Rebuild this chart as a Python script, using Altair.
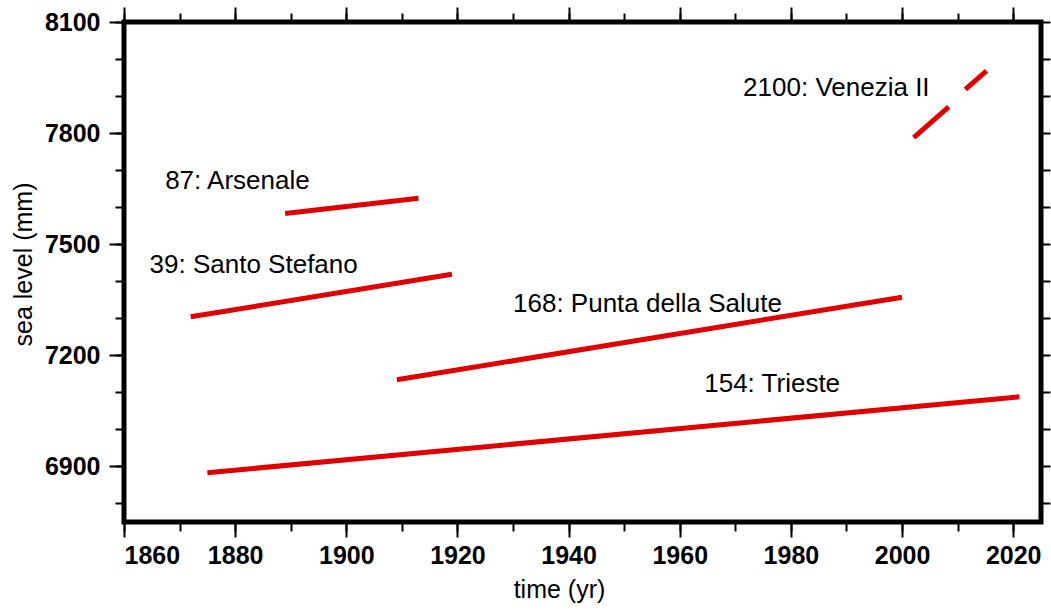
import altair as alt
import pandas as pd

# ---- data ----
segments = ["Trieste", "Punta della Salute", "Santo Stefano", "Arsenale",
            "Venezia II a", "Venezia II b"]
year_start = [1875.0, 1909.1, 1872.0, 1889.0, 2002.1, 2011.4]
year_end = [2021.1, 2000.0, 1919.0, 1913.0, 2008.4, 2015.2]
level_start = [6883, 7134, 7304, 7583, 7788, 7918]
level_end = [7088, 7357, 7419, 7624, 7871, 7968]

label_text = ["154: Trieste", "168: Punta della Salute", "39: Santo Stefano",
              "87: Arsenale", "2100: Venezia II"]
label_year = [1964.4, 1930.0, 1864.6, 1867.4, 1971.4]
label_level = [7100, 7318, 7421, 7648, 7900]

x_major = [1860, 1880, 1900, 1920, 1940, 1960, 1980, 2000, 2020]
x_minor = [1860, 1870, 1880, 1890, 1900, 1910, 1920, 1930, 1940, 1950,
           1960, 1970, 1980, 1990, 2000, 2010, 2020]
y_major = [6900, 7200, 7500, 7800, 8100]
y_minor = [6800, 6900, 7000, 7100, 7200, 7300, 7400, 7500, 7600, 7700,
           7800, 7900, 8000, 8100]

rows = []
for s, x0, x1, y0, y1 in zip(segments, year_start, year_end, level_start, level_end):
    rows.append({"segment": s, "year": x0, "level": y0, "o": 0})
    rows.append({"segment": s, "year": x1, "level": y1, "o": 1})
lines_df = pd.DataFrame(rows)
labels_df = pd.DataFrame({"text": label_text, "year": label_year, "level": label_level})

FONT = "Liberation Sans"
RED = "#e00000"

xscale = alt.Scale(domain=[1860, 2025], nice=False, zero=False)
yscale = alt.Scale(domain=[6750, 8100], nice=False, zero=False)

base_line = alt.Chart(lines_df)

main = base_line.mark_line(color=RED, strokeWidth=5, strokeCap="butt").encode(
    x=alt.X("year:Q", scale=xscale,
            axis=alt.Axis(orient="bottom", values=x_major, tickSize=15, format="d",
                          title="time (yr)", labelPadding=6, titlePadding=9,
                          titleX=435)),
    y=alt.Y("level:Q", scale=yscale,
            axis=alt.Axis(orient="left", values=y_major, tickSize=15, format="d",
                          title="sea level (mm)", labelPadding=9, titlePadding=8,
                          titleY=242)),
    detail="segment:N",
    order="o:Q",
)

text = alt.Chart(labels_df).mark_text(
    align="left", baseline="alphabetic", font=FONT, fontSize=26, color="black"
).encode(
    x=alt.X("year:Q", scale=xscale,
            axis=alt.Axis(orient="bottom", values=x_minor, tickSize=9,
                          labels=False, title=None)),
    y=alt.Y("level:Q", scale=yscale,
            axis=alt.Axis(orient="left", values=y_minor, tickSize=9,
                          labels=False, title=None)),
    text="text:N",
)

top_major = base_line.mark_line(opacity=0).encode(
    x=alt.X("year:Q", scale=xscale,
            axis=alt.Axis(orient="top", values=x_major, tickSize=15,
                          labels=False, title=None)),
    y=alt.Y("level:Q", scale=yscale,
            axis=alt.Axis(orient="right", values=y_minor, tickSize=9,
                          labels=False, title=None)),
    detail="segment:N",
)

top_minor = base_line.mark_line(opacity=0).encode(
    x=alt.X("year:Q", scale=xscale,
            axis=alt.Axis(orient="top", values=x_minor, tickSize=9,
                          labels=False, title=None)),
    y=alt.Y("level:Q", scale=yscale, axis=None),
    detail="segment:N",
)

chart = alt.layer(main, text, top_major, top_minor).resolve_axis(
    x="independent", y="independent"
).properties(
    width=917, height=500,
    autosize=alt.AutoSizeParams(type="none"),
    padding={"left": 124, "top": 22, "right": 10, "bottom": 90},
).configure_view(
    stroke="black", strokeWidth=5
).configure_axis(
    grid=False, domain=False, tickColor="black", tickWidth=2,
    labelFont=FONT, labelFontSize=25, labelFontWeight="bold", labelColor="black",
    titleFont=FONT, titleFontSize=25, titleFontWeight="normal", titleColor="black",
)

chart.save("out.html", embed_options={"renderer": "svg", "actions": False})
